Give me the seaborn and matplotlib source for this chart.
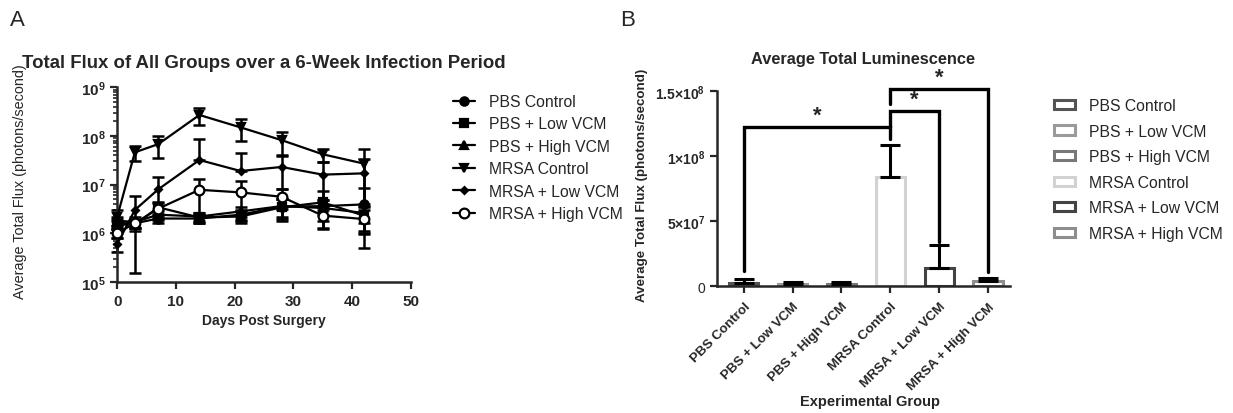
import matplotlib
matplotlib.use("Agg")
import matplotlib.pyplot as plt
from matplotlib.patches import Patch
from matplotlib.lines import Line2D
import seaborn as sns
import pandas as pd
import numpy as np

# data
groups = ["PBS Control", "PBS + Low VCM", "PBS + High VCM",
          "MRSA Control", "MRSA + Low VCM", "MRSA + High VCM"]
days = [0, 3, 7, 14, 21, 28, 35, 42]

# panel A: mean flux and SEM per time point
flux_pbs_ctrl = [1.6e6, 1.6e6, 2.0e6, 2.0e6, 2.4e6, 3.5e6, 3.6e6, 3.9e6]
sem_pbs_ctrl = [4e5, 3e5, 4e5, 4e5, 6e5, 1.5e6, 1.2e6, 4.5e6]
flux_pbs_low = [1.5e6, 1.5e6, 3.4e6, 2.1e6, 2.2e6, 3.4e6, 4.3e6, 2.3e6]
sem_pbs_low = [3e5, 4e5, 9e5, 5e5, 6e5, 1.6e6, 3e6, 1.2e6]
flux_pbs_high = [1.8e6, 1.7e6, 2.4e6, 2.2e6, 2.8e6, 3.6e6, 3.3e6, 2.6e6]
sem_pbs_high = [4e5, 4e5, 5e5, 4e5, 7e5, 1.4e6, 1.5e6, 1.0e6]
flux_mrsa_ctrl = [2.2e6, 4.6e7, 6.8e7, 2.7e8, 1.5e8, 8.2e7, 4.2e7, 2.7e7]
sem_mrsa_ctrl = [8e5, 1.6e7, 3.2e7, 1.0e8, 7e7, 4.1e7, 1.3e7, 2.6e7]
flux_mrsa_low = [6e5, 3.0e6, 8.0e6, 3.2e7, 1.9e7, 2.3e7, 1.6e7, 1.7e7]
sem_mrsa_low = [2e5, 2.85e6, 6e6, 5.5e7, 2.6e7, 1.5e7, 1.3e7, 1.65e7]
flux_mrsa_high = [1.0e6, 1.6e6, 3.2e6, 7.8e6, 6.9e6, 5.6e6, 2.3e6, 1.95e6]
sem_mrsa_high = [2e5, 3e5, 1.0e6, 5.5e6, 5e6, 2.5e6, 1.1e6, 1.0e6]

flux_means = [flux_pbs_ctrl, flux_pbs_low, flux_pbs_high,
              flux_mrsa_ctrl, flux_mrsa_low, flux_mrsa_high]
flux_sems = [sem_pbs_ctrl, sem_pbs_low, sem_pbs_high,
             sem_mrsa_ctrl, sem_mrsa_low, sem_mrsa_high]
markers = ["o", "s", "^", "v", "D", "o"]
marker_fill = ["black", "black", "black", "black", "black", "white"]
marker_size = [6, 6, 6, 6, 3.5, 7]

log_ticks = [1e5, 1e6, 1e7, 1e8, 1e9]
log_labels = [r"$\mathbf{10^{5}}$", r"$\mathbf{10^{6}}$", r"$\mathbf{10^{7}}$",
              r"$\mathbf{10^{8}}$", r"$\mathbf{10^{9}}$"]
day_ticks = [0, 10, 20, 30, 40, 50]

# panel B: average total luminescence
avg_lum = [2.3e6, 2.0e6, 1.7e6, 84.3e6, 13.8e6, 3.8e6]
avg_sem = [3.3e6, 1.5e6, 1.6e6, 24.6e6, 18.0e6, 2.3e6]
bar_colors = ["#545454", "#9a9a9a", "#787878", "#d2d2d2", "#444444", "#8e8e8e"]
lum_ticks = [0, 5e7, 1e8, 1.5e8]
lum_labels = ["0", r"$\mathbf{5{\times}10^{7}}$", r"$\mathbf{1{\times}10^{8}}$",
              r"$\mathbf{1.5{\times}10^{8}}$"]

# significance brackets: (left bar, right bar, bracket height, left leg end, right leg end)
brackets = [(0, 3, 122.8e6, 12e6, 113e6),
            (3, 4, 135e6, 122.8e6, 34e6),
            (3, 5, 151.8e6, 140e6, 11e6)]

sns.set_style("ticks")
plt.rcParams["font.family"] = ["Liberation Sans", "DejaVu Sans"]
plt.rcParams["mathtext.fontset"] = "custom"
plt.rcParams["mathtext.rm"] = "Liberation Sans"
plt.rcParams["mathtext.bf"] = "Liberation Sans:bold"
plt.rcParams["axes.linewidth"] = 1.8

fig = plt.figure(figsize=(12.33, 4.14), dpi=100)
ax1 = fig.add_axes([0.0951, 0.317, 0.238, 0.4696])
ax2 = fig.add_axes([0.5815, 0.306, 0.2376, 0.5087])

# ---- panel A ----
for name, m, s, mk, fc, ms in zip(groups, flux_means, flux_sems, markers, marker_fill, marker_size):
    df = pd.DataFrame({"day": days, "flux": m})
    sns.lineplot(data=df, x="day", y="flux", ax=ax1, color="black", linewidth=1.6,
                 marker=mk, markersize=ms, markerfacecolor=fc, markeredgecolor="black",
                 markeredgewidth=1.6, label=name, legend=False, clip_on=False, zorder=3)
    m = np.array(m)
    s = np.array(s)
    lower = np.where(m - s > 0, s, 0)
    ax1.errorbar(days, m, yerr=[lower, s], fmt="none", ecolor="black", elinewidth=1.8,
                 capsize=4, capthick=1.8, clip_on=False, zorder=2)

ax1.set_yscale("log")
ax1.set_ylim(1e5, 1e9)
ax1.set_xlim(0, 50)
ax1.set_yticks(log_ticks)
ax1.set_yticklabels(log_labels)
ax1.set_xticks(day_ticks)
ax1.set_xticklabels([str(d) for d in day_ticks], fontweight="bold")
ax1.tick_params(axis="both", which="major", length=5, width=1.6, labelsize=11)
ax1.tick_params(axis="y", which="minor", length=3, width=1.2)
ax1.set_xlabel("Days Post Surgery", fontweight="bold", fontsize=10)
ax1.set_ylabel("Average Total Flux (photons/second)", fontsize=10.4)
ax1.yaxis.set_label_coords(-0.307, 0.52)
ax1.set_title("Total Flux of All Groups over a 6-Week Infection Period",
              fontweight="bold", fontsize=13.4, pad=15)
sns.despine(ax=ax1)

h1 = [Line2D([], [], color="black", linewidth=1.6, marker=mk, markersize=ms,
             markerfacecolor=fc, markeredgecolor="black", markeredgewidth=1.6)
      for mk, fc, ms in zip(markers, marker_fill, marker_size)]
fig.legend(h1, groups, loc="upper left", bbox_to_anchor=(0.360, 0.793), frameon=False,
           fontsize=11.3, labelspacing=0.47, handlelength=1.4, handletextpad=0.9,
           borderaxespad=0.2)

# ---- panel B ----
bdf = pd.DataFrame({"group": groups, "lum": avg_lum})
sns.barplot(data=bdf, x="group", y="lum", hue="group", palette=bar_colors, fill=False,
            linewidth=2.2, width=0.6, legend=False, ax=ax2, errorbar=None)
ax2.errorbar(range(len(groups)), avg_lum, yerr=[np.zeros(len(groups)), avg_sem],
             fmt="none", ecolor="black", elinewidth=2.2, capsize=7, capthick=2.2, zorder=3)

for l, r, h, yl, yr in brackets:
    ax2.plot([l, l, r, r], [yl, h, h, yr], color="black", linewidth=2.4, clip_on=False,
             solid_joinstyle="miter")
    ax2.text((l + r) / 2, h + 1e6, "*", ha="center", va="bottom", fontsize=16,
             fontweight="bold", clip_on=False)

ax2.set_ylim(0, 1.62e8)
ax2.set_xlim(-0.55, 5.45)
ax2.spines["left"].set_bounds(0, 1.5e8)
ax2.set_yticks(lum_ticks)
ax2.set_yticklabels(lum_labels)
ax2.set_xticks(range(len(groups)))
ax2.set_xticklabels(groups, rotation=45, ha="right", rotation_mode="anchor", fontweight="bold")
ax2.tick_params(axis="both", length=5, width=1.6)
ax2.tick_params(axis="x", labelsize=9.6, pad=5)
ax2.tick_params(axis="y", labelsize=10)
ax2.set_xlabel("Experimental Group", fontweight="bold", fontsize=10.5)
ax2.xaxis.set_label_coords(0.522, -0.512)
ax2.set_ylabel("Average Total Flux (photons/second)", fontweight="bold", fontsize=9.6)
ax2.yaxis.set_label_coords(-0.235, 0.486)
ax2.set_title("Average Total Luminescence", fontweight="bold", fontsize=11.8, pad=9)
sns.despine(ax=ax2)

h2 = [Patch(facecolor="white", edgecolor=c, linewidth=2.2) for c in bar_colors]
fig.legend(h2, groups, loc="upper left", bbox_to_anchor=(0.8475, 0.783), frameon=False,
           fontsize=11.3, labelspacing=0.67, handlelength=1.3, handleheight=0.55,
           handletextpad=0.9, borderaxespad=0.2)

fig.text(0.008, 0.975, "A", fontsize=16, va="top")
fig.text(0.503, 0.975, "B", fontsize=16, va="top")

fig.savefig("out.png", dpi=100, facecolor="white")
